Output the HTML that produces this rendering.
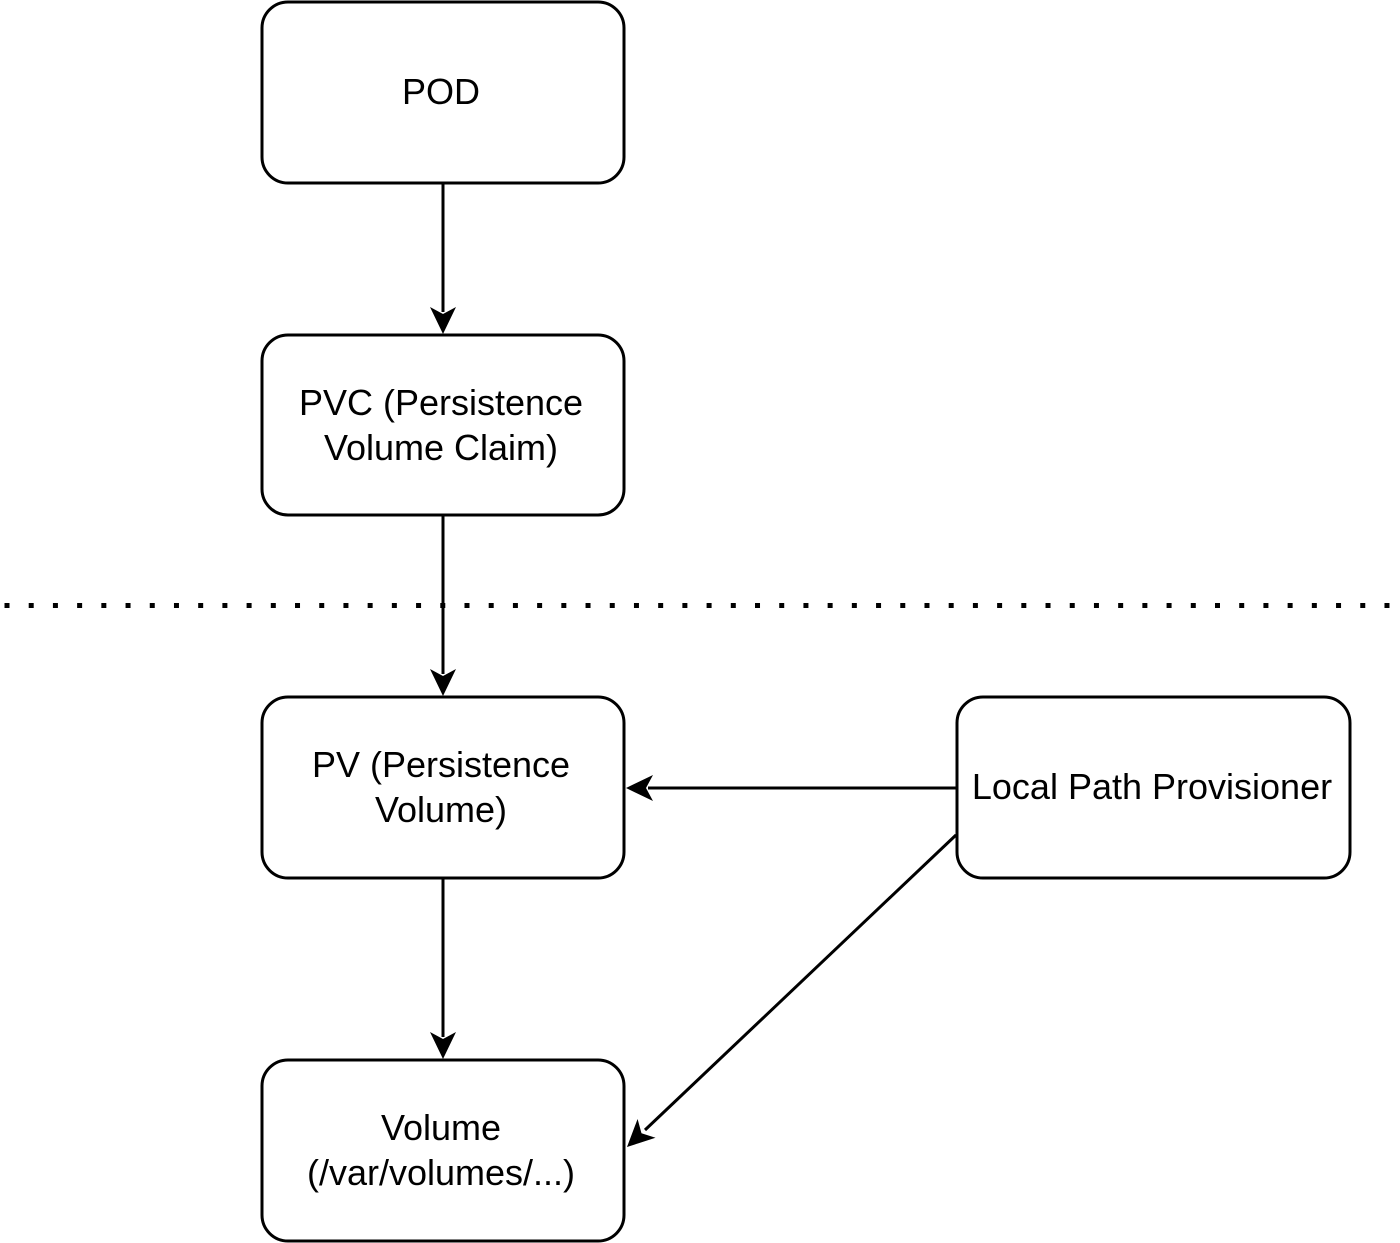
<!DOCTYPE html>
<html><head><meta charset="utf-8"><style>
html,body{margin:0;padding:0;background:#fff;}
svg{display:block;}
text{font-family:"Liberation Sans",Arial,sans-serif;font-size:36px;fill:#000;text-anchor:middle;}
</style></head><body>
<svg width="1400" height="1243" viewBox="0 0 1400 1243" xmlns="http://www.w3.org/2000/svg">
<g fill="#fff" stroke="#000" stroke-width="3">
<rect x="262" y="2" width="362" height="181" rx="26"/>
<rect x="262" y="335" width="362" height="180" rx="26"/>
<rect x="262" y="697" width="362" height="181" rx="26"/>
<rect x="262" y="1060" width="362" height="181" rx="26"/>
<rect x="957" y="697" width="393" height="181" rx="26"/>
</g>
<line x1="4.5" y1="605.5" x2="1392" y2="605.5" stroke="#000" stroke-width="5" stroke-dasharray="5 19.21"/>
<g stroke="#000" stroke-width="3" fill="none">
<line x1="443" y1="184" x2="443" y2="312"/>
<line x1="443" y1="516" x2="443" y2="674"/>
<line x1="443" y1="879" x2="443" y2="1037"/>
<line x1="956" y1="788" x2="648" y2="788"/>
<line x1="956" y1="835" x2="645" y2="1130"/>
</g>
<g fill="#000">
<path d="M443 334 L430 307 L443 314 L456 307 Z"/>
<path d="M443 696 L430 669 L443 676 L456 669 Z"/>
<path d="M443 1059 L430 1032 L443 1039 L456 1032 Z"/>
<path d="M626 788 L653 775 L646 788 L653 801 Z"/>
<path transform="translate(627,1147) rotate(-43.6)" d="M0 0 L27 -13 L20 0 L27 13 Z"/>
</g>
<text x="441" y="104">POD</text>
<text x="441" y="415">PVC (Persistence</text>
<text x="441" y="460">Volume Claim)</text>
<text x="441" y="777">PV (Persistence</text>
<text x="441" y="822">Volume)</text>
<text x="1152" y="799">Local Path Provisioner</text>
<text x="441" y="1140">Volume</text>
<text x="441" y="1185">(/var/volumes/...)</text>
</svg>
</body></html>
